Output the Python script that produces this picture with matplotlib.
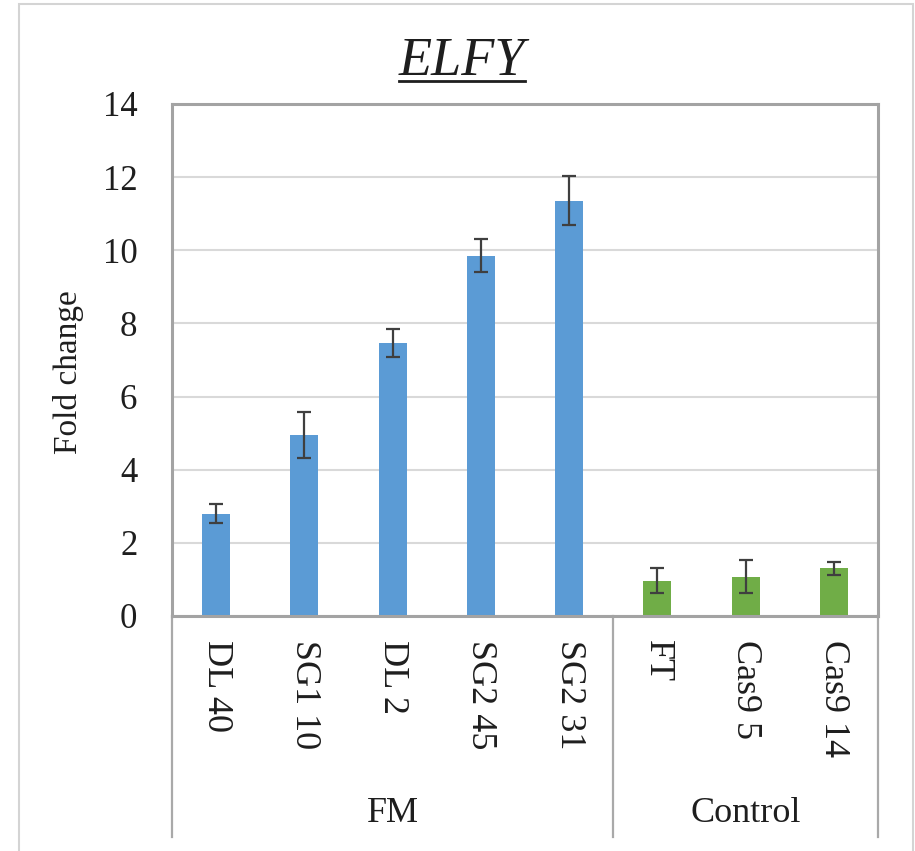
import numpy as np
import matplotlib.pyplot as plt
from matplotlib.patches import Rectangle
from matplotlib.lines import Line2D

# ELFY expression, fold change with error bars
lines = ["DL 40", "SG1 10", "DL 2", "SG2 45", "SG2 31", "FT", "Cas9 5", "Cas9 14"]
fold = [2.80, 4.95, 7.46, 9.85, 11.35, 0.97, 1.08, 1.30]
err = [0.27, 0.62, 0.39, 0.45, 0.67, 0.33, 0.45, 0.18]
groups = ["FM", "Control"]
group_size = [5, 3]

blue = "#5B9BD5"
green = "#70AD47"
txt = "#1e1e1e"
serif = "Liberation Serif"

fig = plt.figure(figsize=(9.15, 8.51), dpi=100)
W, H = 915, 851

# chart area frame (bottom runs off the figure)
fig.patches.append(Rectangle((19 / W, -0.05), (913 - 19) / W, 1 - 4 / H + 0.05,
                             transform=fig.transFigure, fill=False,
                             edgecolor="#d4d4d4", linewidth=1.5))

ax = fig.add_axes([172 / W, 1 - 616 / H, (878 - 172) / W, (616 - 104) / H])

colors = [blue] * group_size[0] + [green] * group_size[1]
x = np.arange(len(lines))
ax.bar(x, fold, width=0.32, color=colors, zorder=2)
ax.errorbar(x, fold, yerr=err, fmt="none", ecolor="#3f3f3f",
            elinewidth=1.6, capsize=4.7, capthick=1.6, zorder=3)

ax.set_xlim(-0.5, len(lines) - 0.5)
ax.set_ylim(0, 14)
ax.set_yticks(np.arange(0, 15, 2))
ax.yaxis.grid(True, color="#d9d9d9", linewidth=1.5, zorder=0)
ax.set_axisbelow(True)

for s in ax.spines.values():
    s.set_color("#a3a3a3")
    s.set_linewidth(2.2)

ax.tick_params(axis="y", length=0, pad=25, labelsize=25, labelcolor=txt)
for lab in ax.get_yticklabels():
    lab.set_fontfamily(serif)

ax.set_xticks(x)
ax.set_xticklabels(lines, rotation=270, va="top", ha="center",
                   fontsize=26, fontfamily=serif, color=txt)
ax.tick_params(axis="x", length=0, pad=17)

# group separators below the axis
edges = np.concatenate([[0], np.cumsum(group_size)]) - 0.5
ybot = -(837 - 616) / (616 - 104)
for e in edges:
    ax.plot([e, e], [0, ybot], transform=ax.get_xaxis_transform(),
            color="#a9a9a9", linewidth=1.6, clip_on=False)

for g, a, b in zip(groups, edges[:-1], edges[1:]):
    ax.annotate(g, xy=((a + b) / 2, H - 814), xycoords=("data", "figure pixels"),
                ha="center", va="center", fontsize=26, fontfamily=serif, color=txt)

fig.text(68 / W, 1 - 372 / H, "Fold change", rotation=90, ha="center", va="center",
         fontsize=24, fontfamily=serif, color=txt)

title = fig.text(462 / W, 1 - 75 / H, "ELFY", ha="center", va="baseline",
                 fontsize=39, fontstyle="italic", fontfamily=serif, color=txt)

# underline under the title
fig.canvas.draw()
bb = title.get_window_extent()
uy = 1 - 81 / H
fig.lines.append(Line2D([bb.x0 / W, bb.x1 / W], [uy, uy], transform=fig.transFigure,
                        color=txt, linewidth=2.0))

fig.savefig("out.png", dpi=100)
